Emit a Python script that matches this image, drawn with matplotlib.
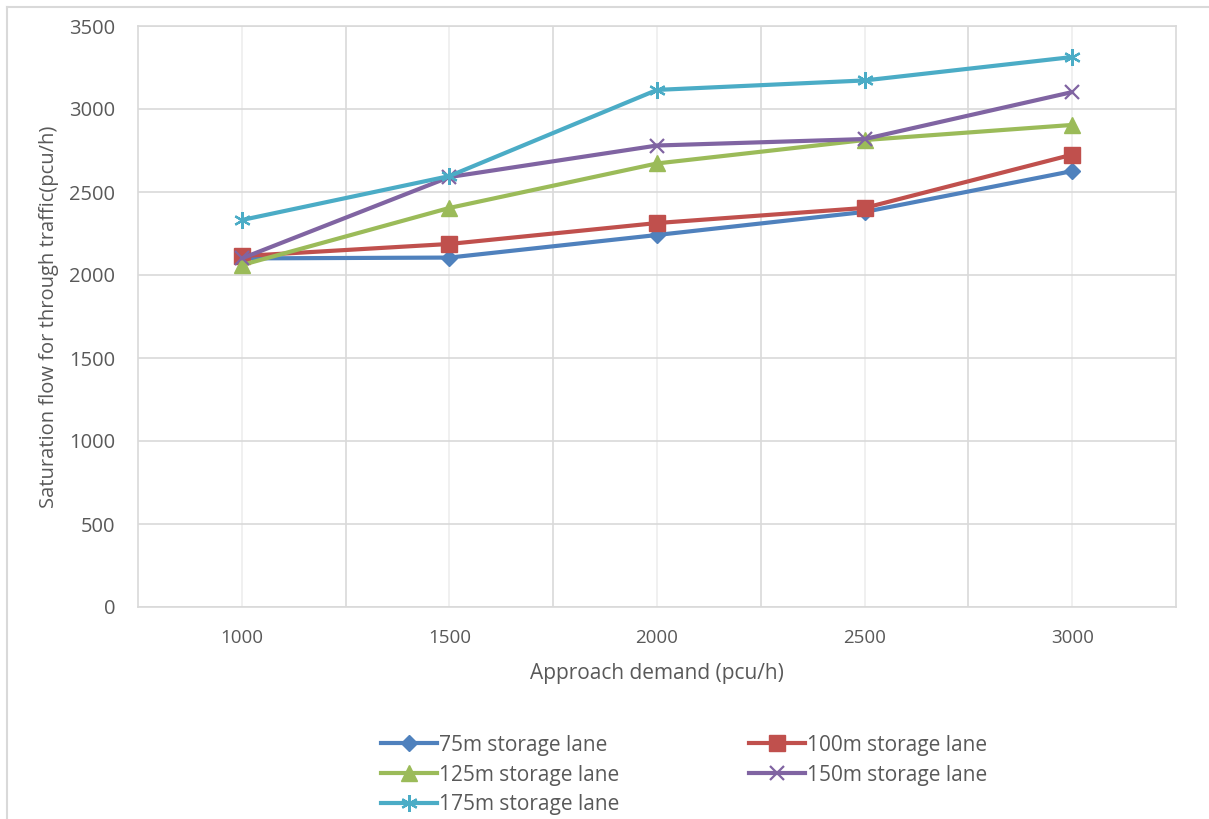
import matplotlib
matplotlib.use("Agg")
import matplotlib.pyplot as plt
from matplotlib.lines import Line2D

categories = ["1000", "1500", "2000", "2500", "3000"]
series_names = ["75m storage lane", "100m storage lane", "125m storage lane",
                "150m storage lane", "175m storage lane"]
s75 = [2100, 2105, 2241, 2380, 2626]
s100 = [2114, 2187, 2313, 2404, 2725]
s125 = [2060, 2404, 2672, 2813, 2904]
s150 = [2100, 2590, 2780, 2819, 3102]
s175 = [2331, 2596, 3115, 3172, 3313]
y_ticks = [0, 500, 1000, 1500, 2000, 2500, 3000, 3500]

values = [s75, s100, s125, s150, s175]
colors = ["#4F81BD", "#C0504D", "#9BBB59", "#8064A2", "#4BACC6"]
markers = ["D", "s", "^", "x", (6, 2, 0)]
msizes = [8, 11, 11, 10, 12]

plt.rcParams['font.family'] = ['Open Sans', 'DejaVu Sans']
txt = "#595959"

fig = plt.figure(figsize=(12.09, 8.19), dpi=100)
ax = fig.add_axes([138/1209, 1-607/819, (1176-138)/1209, (607-26)/819])

x = list(range(len(categories)))
for i in range(len(categories)):
    ax.axvline(i, color="#EEEEEE", lw=1.2, zorder=0)
for i in range(len(categories) - 1):
    ax.axvline(i + 0.5, color="#D9D9D9", lw=1.2, zorder=0)
for yv in y_ticks:
    ax.axhline(yv, color="#D9D9D9", lw=1.2, zorder=0)

handles = []
for vals, c, m, ms, name in zip(values, colors, markers, msizes, series_names):
    mew = 1.6 if m in ("x",) or isinstance(m, tuple) else 1
    ax.plot(x, vals, color=c, lw=3, marker=m, markersize=ms, markeredgewidth=mew,
            markerfacecolor=c, markeredgecolor=c, zorder=3, solid_capstyle='round')
    handles.append(Line2D([], [], color=c, lw=3, marker=m, markersize=ms,
                          markeredgewidth=mew, markerfacecolor=c, markeredgecolor=c))

ax.set_xlim(-0.5, len(categories) - 0.5)
ax.set_ylim(0, 3500)
ax.set_yticks(y_ticks)
ax.set_xticks(x)
ax.set_xticklabels(categories)
ax.tick_params(axis='both', length=0, colors=txt)
ax.tick_params(axis='x', pad=16, labelsize=13.5)
ax.tick_params(axis='y', pad=16.5, labelsize=14.5)
for sp in ax.spines.values():
    sp.set_color("#D9D9D9")
    sp.set_linewidth(1.2)

ax.set_xlabel("Approach demand (pcu/h)", color=txt, fontsize=15, labelpad=11)
ax.set_ylabel("Saturation flow for through traffic(pcu/h)", color=txt, fontsize=14.5, labelpad=7)

# legend: arrange so rows are (75,100), (125,150), (175)
order = [0, 2, 4, 1, 3]
leg = fig.legend([handles[i] for i in order], [series_names[i] for i in order],
                 ncol=2, loc='center', bbox_to_anchor=(0.566, 1-775/819),
                 frameon=False, fontsize=15, handlelength=2.7, handletextpad=0.1,
                 columnspacing=6.2, labelspacing=0.42, borderpad=0)
for t in leg.get_texts():
    t.set_color(txt)

# outer frame
fig.add_artist(Line2D([7/1209, 1], [1-7/819, 1-7/819], color="#D9D9D9", lw=1.5,
                      transform=fig.transFigure))
fig.add_artist(Line2D([7/1209, 7/1209], [0, 1-7/819], color="#D9D9D9", lw=1.5,
                      transform=fig.transFigure))

fig.savefig("out.png", dpi=100)
